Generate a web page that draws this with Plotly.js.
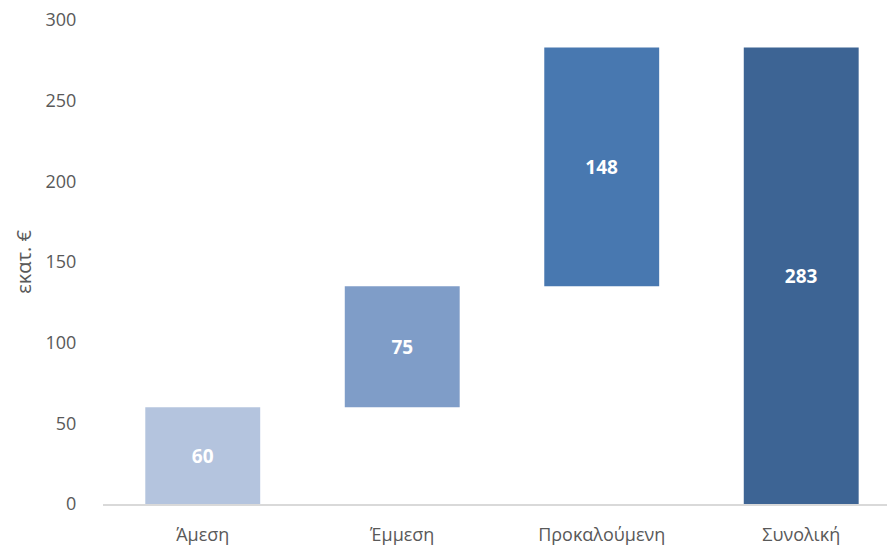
<!DOCTYPE html>
<html>
<head>
<meta charset="utf-8">
<script src="https://cdn.plot.ly/plotly-3.0.1.min.js"></script>
<style>html,body{margin:0;padding:0;background:#fff;}#chart{width:888px;height:549px;}</style>
</head>
<body>
<div id="chart"></div>
<script>
const categories = ["Άμεση", "Έμμεση", "Προκαλούμενη", "Συνολική"];
const values = [60, 75, 148, 283];
const bases = [0, 60, 135, 0];
const labels = ["60", "75", "148", "283"];
const colors = ["#b4c4de", "#7f9dc8", "#4878b0", "#3d6494"];
const yTicks = [0, 50, 100, 150, 200, 250, 300];

const trace = {
  type: "bar",
  x: categories,
  y: values,
  base: bases,
  text: labels,
  textposition: "inside",
  insidetextanchor: "middle",
  textangle: 0,
  textfont: {family: "Open Sans, sans-serif", size: 19, color: "#ffffff", weight: "bold"},
  marker: {color: colors, line: {width: 0}},
  hoverinfo: "none"
};

const layout = {
  width: 888, height: 549,
  margin: {l: 103, r: 1, t: 20, b: 45},
  paper_bgcolor: "#ffffff", plot_bgcolor: "#ffffff",
  showlegend: false,
  bargap: 0.424,
  font: {family: "Open Sans, sans-serif", color: "#595959"},
  xaxis: {
    type: "category",
    range: [-0.5, 3.43],
    showline: true, linecolor: "#d9d9d9", linewidth: 1.5,
    showgrid: false, zeroline: false,
    ticks: "outside", ticklen: 14, tickcolor: "rgba(0,0,0,0)",
    tickfont: {size: 18, color: "#595959"}
  },
  yaxis: {
    range: [0, 300],
    tickvals: yTicks,
    showline: false, showgrid: false, zeroline: false,
    ticks: "outside", ticklen: 22, tickcolor: "rgba(0,0,0,0)",
    tickfont: {size: 18, color: "#595959"},
    title: {text: "εκατ. €", font: {size: 20, color: "#595959"}, standoff: 8}
  }
};

Plotly.newPlot("chart", [trace], layout, {staticPlot: true, displayModeBar: false});
</script>
</body>
</html>
